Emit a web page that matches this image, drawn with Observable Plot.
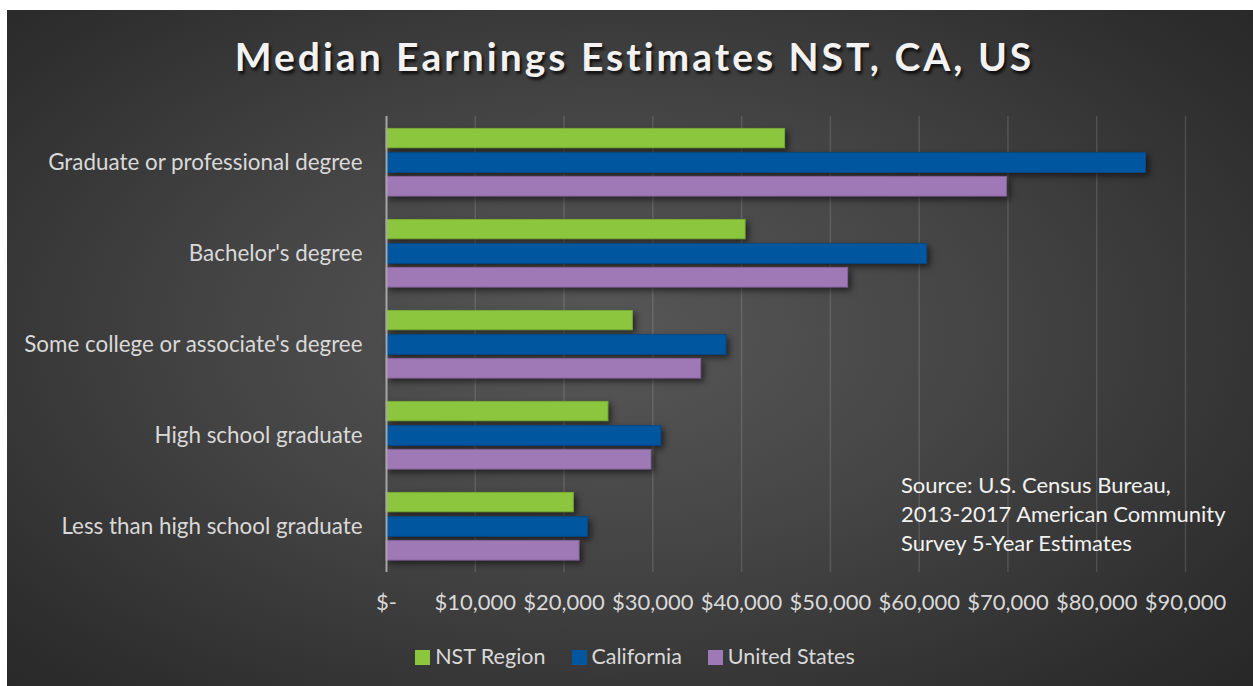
<!DOCTYPE html>
<html>
<head>
<meta charset="utf-8">
<script src="https://cdn.jsdelivr.net/npm/d3@7"></script>
<script src="https://cdn.jsdelivr.net/npm/@observablehq/plot@0.6"></script>
<style>
  html, body { margin: 0; padding: 0; background: #ffffff; width: 1253px; height: 686px; overflow: hidden; }
  #card {
    position: absolute; left: 7px; top: 10px; width: 1246px; height: 676px;
    background: radial-gradient(ellipse 75% 80% at 48% 48%, #575757 0%, #454545 40%, #2e2e2e 80%, #252525 100%);
    font-family: Lato, "Open Sans", sans-serif; color: #d9d9d9;
  }
  #title {
    height: 100px; box-sizing: border-box; padding-top: 23px; text-align: center;
    font-size: 39px; font-weight: bold; letter-spacing: 3px; color: #f2f2f2;
    line-height: 1.2; padding-left: 9px;
    text-shadow: 2px 3px 3px rgba(0,0,0,0.75);
  }
  #chart svg { display: block; }
  #legend {
    height: 56px; box-sizing: border-box; padding-top: 13px; text-align: center;
    font-size: 21.5px; line-height: 26px; color: #d9d9d9; padding-left: 10px;
  }
  #legend span.item { display: inline-block; margin: 0 13px; }
  #legend span.sw { display: inline-block; width: 15px; height: 15px; margin-right: 5px; vertical-align: -1px; }
  #source {
    position: absolute; left: 894px; top: 460px; font-size: 22px; line-height: 29px; color: #f2f2f2;
  }
</style>
</head>
<body>
<div id="card">
  <div id="title">Median Earnings Estimates NST, CA, US</div>
  <div id="chart"></div>
  <div id="legend"></div>
  <div id="source">Source: U.S. Census Bureau,<br>2013-2017 American Community<br>Survey 5-Year Estimates</div>
</div>
<script>
const categories = [
  "Graduate or professional degree",
  "Bachelor's degree",
  "Some college or associate's degree",
  "High school graduate",
  "Less than high school graduate"
];
const seriesNames = ["NST Region", "California", "United States"];
const nstRegion    = [44900, 40450, 27750, 25000, 21100];
const california   = [85550, 60900, 38300, 30950, 22700];
const unitedStates = [69900, 52000, 35450, 29850, 21750];
const xTicks = [0, 10000, 20000, 30000, 40000, 50000, 60000, 70000, 80000, 90000];

const colors = ["#8cc63f", "#0057a0", "#9e79b5"];
const strokes = ["#78ab34", "#004a8a", "#84629a"];
const seriesValues = [nstRegion, california, unitedStates];

const rows = [];
seriesNames.forEach((s, si) => {
  categories.forEach((c, ci) => rows.push({series: s, category: c, value: seriesValues[si][ci]}));
});

const fmt = d3.format(",");
const W = 1246, H = 520;
const insets = [[11.4, 60.2], [35.7, 35.6], [59.4, 11.9]];

const plot = Plot.plot({
  width: W, height: H,
  marginLeft: 379, marginRight: 68, marginTop: 6, marginBottom: 58,
  style: {background: "transparent", color: "#d9d9d9", fontFamily: "Lato, 'Open Sans', sans-serif", fontSize: "22px", overflow: "visible"},
  x: {domain: [0, 90000], ticks: xTicks, label: null},
  y: {domain: categories, padding: 0, label: null},
  marks: [
    Plot.ruleX(xTicks.filter(d => d > 0), {stroke: "#ffffff", strokeOpacity: 0.13, strokeWidth: 1.5}),
    ...seriesNames.map((s, i) => Plot.barX(rows.filter(r => r.series === s), {
      x: "value", y: "category", fill: colors[i], stroke: strokes[i], strokeWidth: 1,
      insetTop: insets[i][0], insetBottom: insets[i][1]
    })),
    Plot.ruleX([0], {stroke: "#a6a6a6", strokeWidth: 2}),
    Plot.axisY({tickSize: 0, tickPadding: 24, fill: "#d9d9d9", fontSize: 22.4, label: null}),
    Plot.axisX({ticks: xTicks, tickSize: 0, tickPadding: 22, fill: "#d9d9d9", fontSize: 22, label: null,
      tickFormat: d => d === 0 ? "$-" : "$" + fmt(d)})
  ]
});
plot.querySelectorAll('g[aria-label="bar"]').forEach(g => {
  g.style.filter = "drop-shadow(3px 3px 3px rgba(0,0,0,0.55))";
});
document.getElementById("chart").appendChild(plot);

const legend = document.getElementById("legend");
seriesNames.forEach((s, i) => {
  const item = document.createElement("span");
  item.className = "item";
  const sw = document.createElement("span");
  sw.className = "sw";
  sw.style.background = colors[i];
  item.appendChild(sw);
  item.appendChild(document.createTextNode(s));
  legend.appendChild(item);
});
</script>
</body>
</html>
